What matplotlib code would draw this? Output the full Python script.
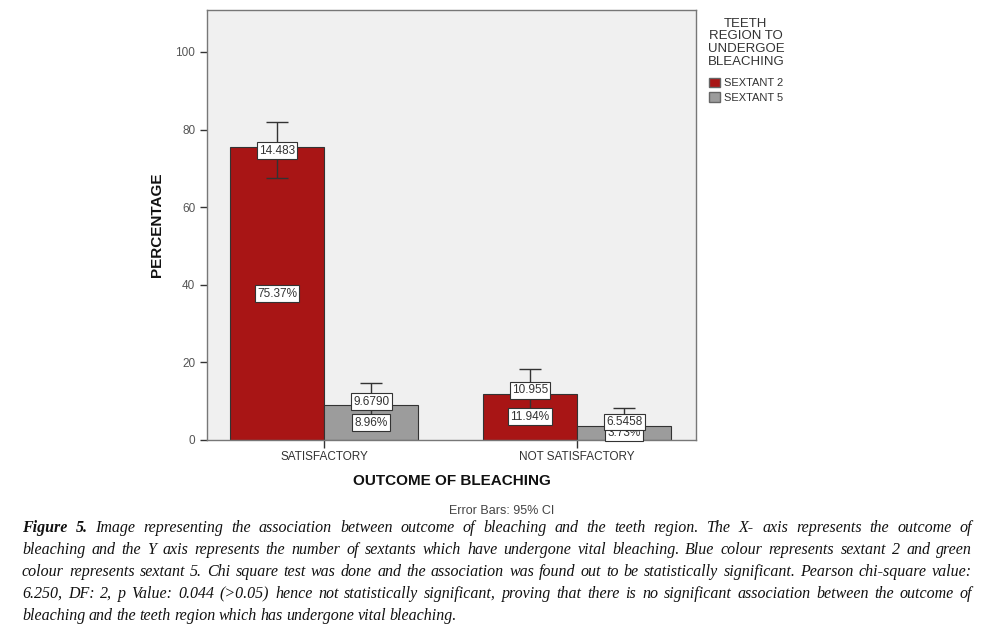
import matplotlib
matplotlib.use("Agg")
import numpy as np
import matplotlib.pyplot as plt
from matplotlib.patches import Patch

plt.rcParams["font.family"] = ["Liberation Sans", "DejaVu Sans"]

# data
outcomes = ["SATISFACTORY", "NOT SATISFACTORY"]
series = ["SEXTANT 2", "SEXTANT 5"]
sextant2 = [75.37, 11.94]
sextant5 = [8.96, 3.73]
sextant2_ci_low = [67.5, 5.5]
sextant2_ci_high = [82.0, 18.3]
sextant5_ci_low = [3.3, 0.0]
sextant5_ci_high = [14.7, 8.2]
sextant2_count_labels = ["14.483", "10.955"]
sextant5_count_labels = ["9.6790", "6.5458"]
sextant2_pct_labels = ["75.37%", "11.94%"]
sextant5_pct_labels = ["8.96%", "3.73%"]

caption_lines = [
    "Figure 5. Image representing the association between outcome of bleaching and the teeth region. The X- axis represents the outcome of",
    "bleaching and the Y axis represents the number of sextants which have undergone vital bleaching. Blue colour represents sextant 2 and green",
    "colour represents sextant 5. Chi square test was done and the association was found out to be statistically significant. Pearson chi-square value:",
    "6.250, DF: 2, p Value: 0.044 (>0.05) hence not statistically significant, proving that there is no significant association between the outcome of",
    "bleaching and the teeth region which has undergone vital bleaching.",
]

RED = "#a81515"
GRAY = "#9c9c9c"
W, H = 1007, 632

fig = plt.figure(figsize=(W / 100, H / 100), dpi=100)
fig.patch.set_facecolor("white")
ax = fig.add_axes([207 / W, 1 - 440 / H, (696 - 207) / W, (440 - 10) / H])
ax.set_facecolor("#f0f0f0")

x = np.arange(len(outcomes))
bw = 0.372
ax.bar(x - bw / 2, sextant2, bw, color=RED, edgecolor="#333333", linewidth=0.8, zorder=2)
ax.bar(x + bw / 2, sextant5, bw, color=GRAY, edgecolor="#333333", linewidth=0.8, zorder=2)

for xs, vals, lo, hi in [(x - bw / 2, sextant2, sextant2_ci_low, sextant2_ci_high),
                         (x + bw / 2, sextant5, sextant5_ci_low, sextant5_ci_high)]:
    err = [np.array(vals) - np.array(lo), np.array(hi) - np.array(vals)]
    ax.errorbar(xs, vals, yerr=err, fmt="none", ecolor="#333333", elinewidth=1.0,
                capsize=8, capthick=1.0, zorder=3)

box = dict(boxstyle="square,pad=0.2", facecolor="white", edgecolor="#333333", linewidth=0.8)
for xs, vals, clabs, plabs in [(x - bw / 2, sextant2, sextant2_count_labels, sextant2_pct_labels),
                               (x + bw / 2, sextant5, sextant5_count_labels, sextant5_pct_labels)]:
    for i in range(len(outcomes)):
        v = vals[i]
        ax.text(xs[i], v / 2, plabs[i], ha="center", va="center", fontsize=8.5,
                color="#333333", bbox=box, zorder=4)
        ax.text(xs[i], v + (0.9 if v < 30 else -0.8), clabs[i], ha="center", va="center",
                fontsize=8.5, color="#333333", bbox=box, zorder=5)

ax.set_xlim(-0.4625, 1.47)
ax.set_ylim(0, 110.8)
ax.set_yticks([0, 20, 40, 60, 80, 100])
ax.set_xticks(x)
ax.set_xticklabels(outcomes, fontsize=8.5, color="#333333")
ax.tick_params(axis="y", labelsize=8.5, labelcolor="#555555", color="#333333", length=5, width=1)
ax.tick_params(axis="x", length=6, width=1, color="#333333", pad=2)
for s in ax.spines.values():
    s.set_color("#777777")
    s.set_linewidth(1.0)

ax.set_xlabel("OUTCOME OF BLEACHING", fontsize=11, fontweight="bold", labelpad=8, color="#111111")
ax.set_ylabel("PERCENTAGE", fontsize=11, fontweight="bold", labelpad=8, color="#111111")
fig.text(502 / W, 1 - 511 / H, "Error Bars: 95% CI", ha="center", va="center", fontsize=9, color="#444444")

# legend
leg = fig.legend(handles=[Patch(facecolor=RED, edgecolor="#666666"), Patch(facecolor=GRAY, edgecolor="#666666")],
                 labels=series, title="TEETH\nREGION TO\nUNDERGOE\nBLEACHING",
                 loc="upper left", bbox_to_anchor=(702 / W, 1 - 12 / H), frameon=False,
                 fontsize=8, title_fontsize=9.5, handlelength=1.0, handleheight=0.9,
                 handletextpad=0.3, labelspacing=0.35, borderpad=0.0)
leg.get_title().set_multialignment("center")
leg.get_title().set_color("#333333")
leg.get_title().set_linespacing(1.1)
leg._legend_box.sep = 7
for t in leg.get_texts():
    t.set_color("#333333")

# caption, justified word by word
fig.canvas.draw()
renderer = fig.canvas.get_renderer()
left_px, right_px = 22, 972
line_y = [528, 550, 572, 594, 616]
cap_font = dict(family="Liberation Serif", style="italic", fontsize=11.5, color="#111111")
for li, line in enumerate(caption_lines):
    words = line.split(" ")
    texts = []
    for wi, wd in enumerate(words):
        weight = "bold" if (li == 0 and wi < 2) else "normal"
        t = fig.text(0, 0, wd, ha="left", va="baseline", fontweight=weight, **cap_font)
        texts.append(t)
    widths = [t.get_window_extent(renderer).width for t in texts]
    last = li == len(caption_lines) - 1
    if last:
        sp = 3.5
    else:
        sp = (right_px - left_px - sum(widths)) / (len(words) - 1)
    cx = left_px
    for t, w in zip(texts, widths):
        t.set_position((cx / W, 1 - (line_y[li] + 4) / H))
        cx += w + sp

fig.savefig("out.png", dpi=100)
